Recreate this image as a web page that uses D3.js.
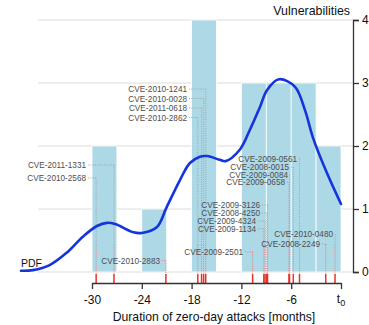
<!DOCTYPE html>
<html>
<head>
<meta charset="utf-8">
<script src="https://cdn.jsdelivr.net/npm/d3@7"></script>
<style>
    body { margin: 0; background: #fff; }
    .chart { width: 369px; height: 325px; }
    text { font-family: "Liberation Sans", Arial, Helvetica, sans-serif; }
</style>
</head>
<body>
<div class="chart"></div>
<script>
//Data

//histogram bins (3 month wide) and their counts
let binStarts = [-30, -27, -24, -21, -18, -15, -12, -9, -6, -3];
let binCounts = [2, 0, 1, 0, 4, 0, 3, 3, 3, 2];
let binWidth = 3;

//the smoothed PDF line
let pdfMonths = [-38.55, -37.1, -35.1, -33.1, -31.1, -29.4, -28.2, -27.2, -25.0, -24.0, -22.2, -21.0,
    -19.4, -18.2, -17.0, -16.1, -14.6, -13.9, -12.2, -11.0, -9.76, -8.9, -7.47, -5.54, -4.34, -3.37, -1.69, 0];
let pdfValues = [0.02, 0.03, 0.11, 0.30, 0.56, 0.73, 0.78, 0.76, 0.63, 0.62, 0.71, 1.03,
    1.46, 1.73, 1.83, 1.84, 1.78, 1.76, 1.94, 2.25, 2.62, 2.89, 3.06, 2.94, 2.57, 2.13, 1.57, 1.08];

//individual vulnerabilities and when their attack started
let cveNames = ["CVE-2011-1331", "CVE-2010-2568", "CVE-2010-2883",
    "CVE-2010-1241", "CVE-2010-0028", "CVE-2011-0618", "CVE-2010-2862",
    "CVE-2009-2501",
    "CVE-2009-3126", "CVE-2008-4250", "CVE-2009-4324", "CVE-2009-1134",
    "CVE-2009-0561", "CVE-2008-0015", "CVE-2009-0084", "CVE-2009-0658",
    "CVE-2010-0480", "CVE-2008-2249"];
let cveMonths = [-27.35, -29.5, -21.1,
    -16.3, -16.55, -16.8, -17.25,
    -10.65,
    -8.85, -8.95, -9.15, -9.3,
    -5.0, -5.75, -6.2, -6.27,
    -0.72, -1.84];

let xTicks = [-30, -24, -18, -12, -6, 0];
let yTicks = [0, 1, 2, 3, 4];

//Layout of the annotation labels: right end of the text and its baseline (pixels)
let labelLayout = [
    [86, 168], [86, 181], [160, 263.5],
    [187, 92], [187, 101.5], [187, 111], [187, 120.5],
    [243, 255],
    [260, 208], [260, 216], [256, 224], [256, 231.7],
    [297, 161.5], [289, 170], [288, 177.5], [285, 185],
    [333, 237], [320, 247]
];

let chart = {};

init();

function init() {
    chart.bins = binStarts.map((s, i) => {
        return { start: s, count: binCounts[i] };
    }).filter(d => d.count > 0);

    chart.pdf = pdfMonths.map((m, i) => {
        return { month: m, val: pdfValues[i] };
    });

    chart.cves = cveNames.map((name, i) => {
        return {
            name: name,
            month: cveMonths[i],
            lx: labelLayout[i][0],
            ly: labelLayout[i][1]
        };
    });

    setScales();
    appendElements();
}

function setScales() {
    chart.xScale = d3.scaleLinear()
        .domain([-30, 0])
        .range([92, 341]);

    chart.yScale = d3.scaleLinear()
        .domain([0, 4])
        .range([272, 20]);

    chart.line = d3.line()
        .x(d => chart.xScale(d.month))
        .y(d => chart.yScale(d.val))
        .curve(d3.curveCatmullRom.alpha(0.5));
}

function appendElements() {
    let x = chart.xScale;
    let y = chart.yScale;

    chart.svg = d3.select(".chart").append("svg")
        .attr("width", 369)
        .attr("height", 325);

    //horizontal grid
    chart.svg.append("g").selectAll("line")
        .data(yTicks)
        .enter()
        .append("line")
        .attr("x1", 38)
        .attr("x2", 353)
        .attr("y1", d => y(d))
        .attr("y2", d => y(d))
        .attr("stroke", "#dcdcdc")
        .attr("stroke-width", 1);

    //histogram
    chart.svg.append("g").selectAll("rect")
        .data(chart.bins)
        .enter()
        .append("rect")
        .attr("x", d => x(d.start))
        .attr("y", d => y(d.count))
        .attr("width", d => x(d.start + binWidth) - x(d.start))
        .attr("height", d => y(0) - y(d.count))
        .attr("fill", "#add8e6")
        .attr("stroke", "#fff")
        .attr("stroke-width", 0.8);

    //leader lines from labels down to the attack date
    let leaders = chart.svg.append("g").attr("class", "leaders");
    let redStart = 245;

    chart.cves.forEach(d => {
        let ex = x(d.month);
        let ly = d.ly - 3;
        let horizColor = ly < redStart ? "#9a9a9a" : "#e77";

        leaders.append("line")
            .attr("x1", d.lx + 2).attr("x2", ex)
            .attr("y1", ly).attr("y2", ly)
            .attr("stroke", horizColor)
            .attr("stroke-width", 0.8)
            .attr("stroke-dasharray", "1,1.3");

        if (ly < redStart) {
            leaders.append("line")
                .attr("x1", ex).attr("x2", ex)
                .attr("y1", ly).attr("y2", redStart)
                .attr("stroke", "#9a9a9a")
                .attr("stroke-width", 0.8)
                .attr("stroke-dasharray", "1,1.3");
        }
        leaders.append("line")
            .attr("x1", ex).attr("x2", ex)
            .attr("y1", Math.max(ly, redStart)).attr("y2", 274)
            .attr("stroke", "#e66")
            .attr("stroke-width", 0.8)
            .attr("stroke-dasharray", "1,1.3");
    });

    //labels
    chart.svg.append("g").selectAll("text")
        .data(chart.cves)
        .enter()
        .append("text")
        .attr("x", d => d.lx)
        .attr("y", d => d.ly)
        .attr("text-anchor", "end")
        .attr("font-size", "8.2px")
        .attr("fill", "#4d4d4d")
        .text(d => d.name);

    //PDF curve
    chart.svg.append("path")
        .datum(chart.pdf)
        .attr("d", chart.line)
        .attr("fill", "none")
        .attr("stroke", "#1434dc")
        .attr("stroke-width", 2.6)
        .attr("stroke-linecap", "round");

    chart.svg.append("text")
        .attr("x", 21)
        .attr("y", 267)
        .attr("font-size", "10.5px")
        .attr("fill", "#111")
        .text("PDF");

    //red rug ticks
    chart.svg.append("g").selectAll("line")
        .data(chart.cves)
        .enter()
        .append("line")
        .attr("x1", d => x(d.month))
        .attr("x2", d => x(d.month))
        .attr("y1", 274)
        .attr("y2", 283)
        .attr("stroke", "#e8322c")
        .attr("stroke-width", 1.5);

    //x axis
    chart.xAxis = chart.svg.append("g")
        .attr("class", "axis x-axis")
        .attr("transform", "translate(0,283)")
        .call(
            d3.axisBottom(x)
            .tickValues(xTicks)
            .tickSize(6)
            .tickSizeOuter(0)
            .tickPadding(6)
            .tickFormat(d => d === 0 ? "" : d)
        );

    chart.xAxis.selectAll("path, line")
        .attr("stroke", "#333")
        .attr("stroke-width", 1.3);
    chart.xAxis.selectAll("text")
        .attr("font-size", "12px")
        .attr("fill", "#111")
        .attr("font-family", null);

    //t0 label for the zero tick
    let t0 = chart.xAxis.append("text")
        .attr("x", x(0))
        .attr("y", 20)
        .attr("text-anchor", "middle")
        .attr("font-size", "12px")
        .attr("fill", "#111");
    t0.append("tspan").text("t");
    t0.append("tspan").attr("font-size", "9px").attr("dy", "3").text("0");

    //y axis
    chart.yAxis = chart.svg.append("g")
        .attr("class", "axis y-axis")
        .attr("transform", "translate(353,0)")
        .call(
            d3.axisRight(y)
            .tickValues(yTicks)
            .tickSize(6)
            .tickPadding(3)
            .tickFormat(d3.format("d"))
        );

    chart.yAxis.selectAll("path, line")
        .attr("stroke", "#333")
        .attr("stroke-width", 1.3);
    chart.yAxis.selectAll("text")
        .attr("font-size", "12px")
        .attr("fill", "#111")
        .attr("font-family", null);

    //titles
    chart.svg.append("text")
        .attr("x", 214)
        .attr("y", 321)
        .attr("text-anchor", "middle")
        .attr("font-size", "12.2px")
        .attr("fill", "#111")
        .text("Duration of zero-day attacks [months]");

    chart.svg.append("text")
        .attr("x", 350)
        .attr("y", 15)
        .attr("text-anchor", "end")
        .attr("font-size", "12.4px")
        .attr("fill", "#111")
        .text("Vulnerabilities");
}
</script>
</body>
</html>
